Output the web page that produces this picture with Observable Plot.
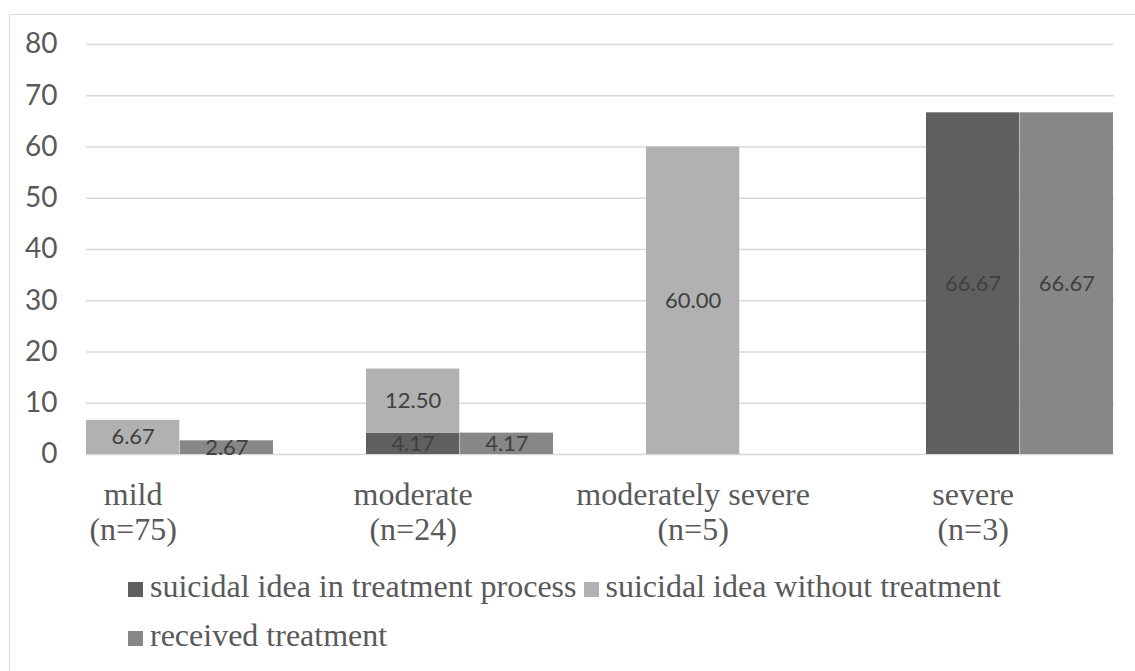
<!DOCTYPE html>
<html><head><meta charset="utf-8">
<script src="https://cdn.jsdelivr.net/npm/d3@7"></script>
<script src="https://cdn.jsdelivr.net/npm/@observablehq/plot@0.6"></script>
<style>
body{margin:0;background:#fff;width:1135px;height:671px;overflow:hidden;position:relative;}
#frame{position:absolute;left:9px;top:14px;width:1200px;height:700px;border:1px solid #d9d9d9;}
#chart{position:absolute;left:0;top:0;}
#legend{position:absolute;left:128px;top:562px;font-family:"Liberation Serif";font-size:32px;line-height:49px;color:#595959;white-space:nowrap;}
.sw{display:inline-block;width:15px;height:15px;margin-right:7px;vertical-align:baseline;}
.item{margin-right:7px;}
</style></head><body>
<div id="frame"></div>
<div id="chart"></div>
<div id="legend"></div>
<script>
const categories = ["mild", "moderate", "moderately severe", "severe"];
const sampleSizes = [75, 24, 5, 3];
const seriesNames = ["suicidal idea in treatment process", "suicidal idea without treatment", "received treatment"];
const seriesColors = ["#5f5f5f", "#b1b1b1", "#878787"];
const inTreatment = [0, 4.17, 0, 66.67];
const withoutTreatment = [6.67, 12.50, 60.00, 0];
const receivedTreatment = [2.67, 4.17, 0, 66.67];
const yTicks = [0, 10, 20, 30, 40, 50, 60, 70, 80];

const stackRows = [];
const receivedRows = [];
categories.forEach((c, i) => {
  stackRows.push({category: c, series: seriesNames[0], value: inTreatment[i]});
  stackRows.push({category: c, series: seriesNames[1], value: withoutTreatment[i]});
  receivedRows.push({category: c, series: seriesNames[2], value: receivedTreatment[i]});
});

// layout: band of each category holds two adjacent bars (stack | received)
const padInner = 0.331;
const plotW = 1135 - 86 - 21;
const half = plotW / (categories.length - padInner) * (1 - padInner) / 2;

const chart = Plot.plot({
  width: 1135,
  height: 560,
  marginLeft: 86,
  marginRight: 21,
  marginTop: 44,
  marginBottom: 106,
  style: {fontFamily: "Lato", background: "transparent", overflow: "visible"},
  x: {domain: categories, paddingInner: padInner, paddingOuter: 0, axis: null},
  y: {domain: [0, 80]},
  color: {domain: seriesNames, range: seriesColors},
  marks: [
    Plot.ruleY(yTicks, {stroke: "#d9d9d9", strokeWidth: 1.3}),
    Plot.barY(stackRows, Plot.stackY({x: "category", y: "value", fill: "series", insetRight: half})),
    Plot.barY(receivedRows, {x: "category", y: "value", fill: "series", insetLeft: half}),
    Plot.text(stackRows.filter(d => d.value > 0), Plot.stackY({x: "category", y: "value", text: d => d.value.toFixed(2), dx: -half / 2, fill: "#404040", fontSize: 22, fontFamily: "Lato"})),
    Plot.text(receivedRows.filter(d => d.value > 0), {x: "category", y: d => d.value / 2, text: d => d.value.toFixed(2), dx: half / 2, fill: "#404040", fontSize: 22, fontFamily: "Lato"}),
    Plot.axisY({ticks: yTicks, tickSize: 0, tickPadding: 29, fontSize: 28, fontFamily: "Lato", color: "#595959", label: null}),
    Plot.text(categories, {x: d => d, text: (d, i) => `${d}\n(n=${sampleSizes[i]})`, frameAnchor: "bottom", lineAnchor: "top", dx: -half / 2, dy: 25, lineHeight: 1.1, fontSize: 32, fontFamily: "Liberation Serif", fill: "#595959"})
  ]
});
document.getElementById("chart").appendChild(chart);

const legend = document.getElementById("legend");
seriesNames.forEach((s, i) => {
  const item = document.createElement("span");
  item.className = "item";
  const sw = document.createElement("span");
  sw.className = "sw";
  sw.style.background = seriesColors[i];
  item.appendChild(sw);
  item.appendChild(document.createTextNode(s));
  legend.appendChild(item);
  if (i === 1) legend.appendChild(document.createElement("br"));
});
</script>
</body></html>
